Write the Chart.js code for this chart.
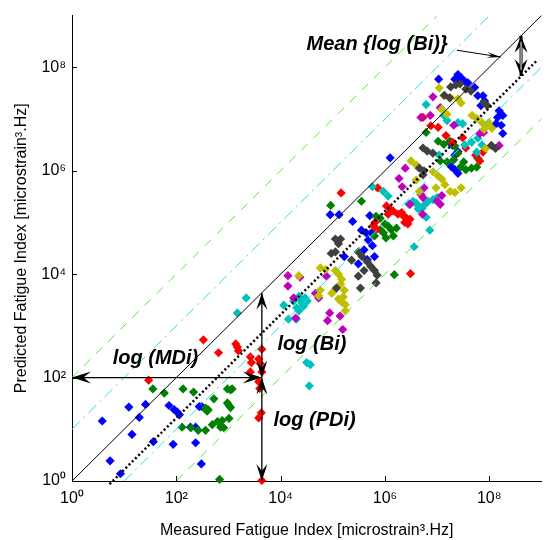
<!DOCTYPE html>
<html><head><meta charset="utf-8">
<script src="https://cdn.jsdelivr.net/npm/chart.js@4"></script>
<style>html,body{margin:0;padding:0;background:#fff}canvas{display:block}</style>
</head><body>
<canvas id="c" width="546" height="540"></canvas>
<script>
// Axis ticks
const TICK_VALUES = [1, 1e2, 1e4, 1e6, 1e8];
const TICK_LABELS = ['10⁰', '10²', '10⁴', '10⁶', '10⁸'];

// Scatter series: log10(measured) and log10(predicted)
const blueLogX = [0.58,1.09,1.29,1.41,1.15,1.56,0.73,0.93,1.86,1.96,2.02,2.06,1.94,2.27,2.37,2.44,2.49,2.37,2.48,
  4.95,5.12,5.38,5.71,6.10,5.55,5.64,5.74,5.68,5.76,5.60,5.80,5.22,5.66,5.49,
  7.03,7.40,7.46,7.34,7.53,7.43,7.59,7.72,7.78,7.88,7.91,7.84,8.19,8.26,8.16,8.13,8.23,8.26,7.24,7.30,7.40,7.34,7.27,7.34,7.40];
const blueLogY = [1.16,1.43,1.23,1.48,0.90,0.76,0.39,0.14,1.46,1.38,1.33,1.28,0.71,1.04,1.04,1.44,1.44,0.74,0.33,
  5.15,5.15,5.02,5.13,6.25,4.85,4.80,4.80,4.66,4.55,4.47,4.34,4.34,4.28,4.20,
  7.77,7.86,7.80,7.77,7.73,7.70,7.70,7.61,7.45,7.45,7.35,7.26,7.16,7.07,7.03,6.91,6.88,6.72,6.56,6.49,6.37,6.30,6.08,6.02,5.95];

const greenLogX = [1.55,1.77,2.13,2.33,2.56,2.61,2.59,2.72,2.98,3.04,3.07,2.98,3.01,3.04,2.11,2.28,2.42,2.56,2.69,2.79,2.88,2.85,2.91,3.01,2.83,
  4.96,5.55,5.83,5.91,6.00,6.06,6.12,6.22,5.91,5.97,6.02,6.16,5.80,6.18,
  6.79,7.02,7.13,7.25,7.34,7.06,7.19,7.32,7.40,7.51,7.55,7.66,7.78,7.76,7.45];
const greenLogY = [1.78,1.70,1.78,1.72,1.41,1.38,1.35,1.59,1.78,1.76,1.78,1.51,1.46,1.42,1.04,1.03,0.98,0.98,1.09,1.15,1.17,1.04,1.03,1.21,0.03,
  5.33,5.41,5.12,5.08,4.97,4.93,4.86,4.89,4.86,4.80,4.70,4.74,4.74,3.99,
  6.74,6.57,6.51,6.57,6.48,6.19,6.17,6.21,6.34,6.17,6.02,6.05,6.24,6.07,6.07];

const redLogX = [2.52,2.81,3.14,3.17,3.19,3.42,3.44,3.58,3.61,3.42,3.64,3.58,3.60,3.64,1.47,3.58,3.63,3.64,
  6.49,5.16,5.86,6.03,6.10,6.16,6.06,6.25,6.32,6.35,6.41,6.48,6.38,6.44,5.81,5.78,5.84,
  6.73,6.88,7.02,7.17,7.30,7.49,7.55,7.74,7.82,7.88];
const redLogY = [2.73,2.48,2.65,2.59,2.52,2.40,2.29,2.36,2.27,2.11,2.11,1.92,1.79,2.55,1.95,1.22,1.32,0.01,
  4.01,5.57,5.67,5.32,5.26,5.22,5.16,5.16,5.19,5.13,5.09,5.06,5.00,4.97,5.00,4.94,4.87,
  7.03,6.87,6.84,6.68,6.55,6.64,6.44,6.30,6.19,6.36];

const cyanLogX = [3.34,3.17,4.50,4.57,4.55,4.06,4.25,4.35,4.38,4.41,4.44,4.47,4.51,4.31,4.35,4.15,4.30,
  5.76,5.97,6.06,6.46,6.54,6.60,6.65,6.71,6.77,6.83,6.92,7.00,6.64,6.79,6.86,6.56,
  6.79,7.13,7.19,7.40,7.49,7.53,7.66,7.78,7.86,7.76,7.04];
const cyanLogY = [3.54,3.25,2.29,2.25,1.84,3.40,3.48,3.57,3.51,3.44,3.38,3.54,3.48,3.35,3.29,3.13,3.13,
  5.69,5.60,5.51,5.35,5.41,5.37,5.31,5.27,5.35,5.41,5.44,5.48,5.26,5.10,4.85,4.53,
  7.28,7.07,6.97,6.93,6.91,6.50,6.55,6.63,6.50,6.36,6.30];

const magentaLogX = [4.14,4.37,4.14,4.25,4.67,4.73,4.88,4.94,4.90,5.14,5.19,4.29,
  6.39,6.27,6.33,6.48,6.69,6.73,6.75,7.00,7.06,7.09,6.72,
  6.92,7.06,6.69,6.87,7.32,7.82,7.89,8.19];
const magentaLogY = [3.97,3.94,3.77,3.54,3.63,3.54,3.96,3.25,3.10,3.19,2.93,3.15,
  6.05,5.85,5.69,5.35,5.54,5.48,5.67,5.41,5.35,5.52,5.16,
  7.43,7.22,7.03,7.07,6.88,6.72,6.74,6.49];

const yellowLogX = [4.35,4.76,4.86,5.05,5.11,5.17,5.15,5.05,4.76,4.73,4.98,5.22,5.20,5.11,5.17,5.24,5.24,
  6.50,6.60,6.92,7.02,7.09,6.98,7.15,7.25,7.34,7.46,6.60,6.66,
  7.04,7.13,7.26,7.40,7.46,7.09,7.19,7.67,7.76,7.86,7.93,7.99,8.05,7.90,7.93];
const yellowLogY = [3.97,4.12,4.09,4.07,4.00,3.90,3.81,3.71,3.69,3.58,3.63,3.69,3.56,3.52,3.46,3.41,3.29,
  6.19,6.11,5.98,5.90,5.84,5.67,5.73,5.60,5.58,5.67,5.82,5.60,
  7.60,7.45,7.41,7.39,7.31,7.19,7.09,7.07,7.01,6.93,6.88,6.93,6.82,6.80,6.43];

const grayLogX = [5.05,5.15,5.11,4.97,5.05,5.49,5.56,5.66,5.73,5.60,5.80,5.36,5.49,5.85,5.53,5.07,5.83,
  7.14,7.24,7.26,7.36,7.44,7.55,7.65,7.90,7.96,6.73,6.81,6.92,6.66,6.75,6.73,8.04,8.12];
const grayLogY = [4.68,4.68,4.59,4.40,4.43,4.43,4.34,4.24,4.15,4.07,4.07,4.27,3.96,3.98,3.73,3.73,3.83,
  7.46,7.41,7.62,7.66,7.68,7.58,7.54,7.31,7.26,6.44,6.38,6.34,6.05,6.00,5.92,6.49,6.43];

// Reference lines (end points)
const identityX = [1, 1e9], identityY = [1, 1e9];
const meanFitX = [5.25, 7.9e8], meanFitY = [0.87, 1.3e8];
const upperGreenX = [1, 1e7], upperGreenY = [100, 1e9];
const lowerGreenX = [100, 1e9], lowerGreenY = [1, 1e7];
const upperCyanX = [1, 1e8], upperCyanY = [10, 1e9];
const lowerCyanX = [10, 1e9], lowerCyanY = [1, 1e8];

const pts = (lx, ly) => lx.map((v, i) => ({ x: Math.pow(10, v), y: Math.pow(10, ly[i]) }));
const seg = (xs, ys) => xs.map((v, i) => ({ x: v, y: ys[i] }));

const FONT = '"Liberation Sans", Arial, Helvetica, sans-serif';

// Annotations (data coordinates)
const ARROWS = [
  { x1: 1, y1: 100, x2: 4365, y2: 100, start: true, end: true, L: 19, W: 12, w: 1.3 },
  { x1: 4365, y1: 4365, x2: 4365, y2: 100, start: true, end: true, L: 17, W: 11, w: 1.3 },
  { x1: 4365, y1: 100, x2: 4365, y2: 1, start: true, end: true, L: 17, W: 11, w: 1.3 },
  { x1: 2.4e7, y1: 2.14e8, x2: 1.66e8, y2: 1.58e8, start: false, end: true, L: 14, W: 6, w: 1 },
  { x1: 4.07e8, y1: 4.07e8, x2: 4.07e8, y2: 6.8e7, start: true, end: true, L: 17, W: 13, w: 3, hollow: true }
];
const NOTES = [
  { text: 'log (MDi)', x: 39.8, y: 229 },
  { text: 'log (Bi)', x: 3.98e4, y: 437 },
  { text: 'log (PDi)', x: 4.47e4, y: 15.1 },
  { text: 'Mean {log (Bi)}', x: 7.08e5, y: 2.75e8 }
];

function head(ctx, tx, ty, dx, dy, L, W) {
  const px = -dy, py = dx;
  ctx.beginPath();
  ctx.moveTo(tx, ty);
  ctx.lineTo(tx - dx * L + px * W / 2, ty - dy * L + py * W / 2);
  ctx.lineTo(tx - dx * L * 0.6, ty - dy * L * 0.6);
  ctx.lineTo(tx - dx * L - px * W / 2, ty - dy * L - py * W / 2);
  ctx.closePath();
  ctx.fill();
}

const annot = {
  id: 'annot',
  afterDatasetsDraw(chart) {
    const { ctx, chartArea: ca } = chart;
    const xs = chart.scales.x, ys = chart.scales.y;
    ctx.save();
    // inward ticks
    ctx.strokeStyle = '#000'; ctx.lineWidth = 1;
    TICK_VALUES.forEach(v => {
      const px = Math.round(xs.getPixelForValue(v)) + 0.5;
      ctx.beginPath(); ctx.moveTo(px, ca.bottom); ctx.lineTo(px, ca.bottom - 5); ctx.stroke();
      const py = Math.round(ys.getPixelForValue(v)) + 0.5;
      ctx.beginPath(); ctx.moveTo(ca.left, py); ctx.lineTo(ca.left + 5, py); ctx.stroke();
    });
    // arrows
    ARROWS.forEach(a => {
      const x1 = xs.getPixelForValue(a.x1), y1 = ys.getPixelForValue(a.y1);
      const x2 = xs.getPixelForValue(a.x2), y2 = ys.getPixelForValue(a.y2);
      const len = Math.hypot(x2 - x1, y2 - y1), dx = (x2 - x1) / len, dy = (y2 - y1) / len;
      ctx.strokeStyle = '#000'; ctx.fillStyle = '#000'; ctx.lineWidth = a.w;
      ctx.beginPath(); ctx.moveTo(x1, y1); ctx.lineTo(x2, y2); ctx.stroke();
      if (a.end) head(ctx, x2, y2, dx, dy, a.L, a.W);
      if (a.start) head(ctx, x1, y1, -dx, -dy, a.L, a.W);
      if (a.hollow) {
        ctx.strokeStyle = '#fff'; ctx.lineWidth = 1;
        ctx.beginPath(); ctx.moveTo(x1 + dx * 6, y1 + dy * 6); ctx.lineTo(x2 - dx * 6, y2 - dy * 6); ctx.stroke();
      }
    });
    // text notes
    ctx.fillStyle = '#000';
    ctx.font = 'italic bold 20px ' + FONT;
    ctx.textAlign = 'center'; ctx.textBaseline = 'middle';
    NOTES.forEach(n => ctx.fillText(n.text, xs.getPixelForValue(n.x), ys.getPixelForValue(n.y)));
    ctx.restore();
  }
};

const scatterSet = (lx, ly, color, order) => ({
  data: pts(lx, ly), backgroundColor: color, borderColor: color, borderWidth: 0,
  pointStyle: 'rectRot', pointRadius: 4.6, showLine: false, clip: false, order
});
const lineSet = (xs, ys, color, width, dash, order) => ({
  data: seg(xs, ys), borderColor: color, backgroundColor: color, borderWidth: width,
  borderDash: dash, pointRadius: 0, showLine: true, fill: false, tension: 0, order, clip: false
});

new Chart(document.getElementById('c'), {
  type: 'scatter',
  data: {
    datasets: [
      lineSet(identityX, identityY, '#000', 1, [], 0),
      lineSet(meanFitX, meanFitY, '#000', 2.5, [2, 2.5], 0),
      lineSet(upperGreenX, upperGreenY, '#4dee2a', 1, [9, 8], 0),
      lineSet(lowerGreenX, lowerGreenY, '#4dee2a', 1, [9, 8], 0),
      lineSet(upperCyanX, upperCyanY, '#1ee0f0', 1, [11, 5, 2, 5], 0),
      lineSet(lowerCyanX, lowerCyanY, '#1ee0f0', 1, [11, 5, 2, 5], 0),
      scatterSet(grayLogX, grayLogY, '#404040', 1),
      scatterSet(yellowLogX, yellowLogY, '#bfbf00', 2),
      scatterSet(magentaLogX, magentaLogY, '#bf00bf', 3),
      scatterSet(cyanLogX, cyanLogY, '#00bfbf', 4),
      scatterSet(redLogX, redLogY, '#ff0000', 5),
      scatterSet(greenLogX, greenLogY, '#008000', 6),
      scatterSet(blueLogX, blueLogY, '#0000ff', 7)
    ]
  },
  options: {
    responsive: false, animation: false, events: [],
    layout: { padding: { top: 9, right: 2, left: 0, bottom: 0 } },
    plugins: { legend: { display: false }, tooltip: { enabled: false } },
    scales: {
      x: {
        type: 'logarithmic', min: 1, max: 1e9,
        afterBuildTicks: s => { s.ticks = TICK_VALUES.map(v => ({ value: v })); },
        afterFit: s => { s.height = 59; },
        grid: { display: false, drawTicks: false },
        border: { display: true, color: '#000', width: 1 },
        ticks: { color: '#000', font: { family: FONT, size: 16 }, padding: 8, maxRotation: 0, autoSkip: false,
          callback: v => { const i = TICK_VALUES.indexOf(v); return i >= 0 ? TICK_LABELS[i] : ''; } },
        title: { display: true, text: 'Measured Fatigue Index [microstrain³.Hz]', color: '#000',
          font: { family: FONT, size: 16 }, padding: { top: 0, bottom: 0 } }
      },
      y: {
        type: 'logarithmic', min: 1, max: 1e9,
        afterBuildTicks: s => { s.ticks = TICK_VALUES.map(v => ({ value: v })); },
        afterFit: s => { s.width = 72; },
        grid: { display: false, drawTicks: false },
        border: { display: true, color: '#000', width: 1 },
        ticks: { color: '#000', font: { family: FONT, size: 16 }, padding: 6, autoSkip: false,
          callback: v => { const i = TICK_VALUES.indexOf(v); return i >= 0 ? TICK_LABELS[i] : ''; } },
        title: { display: true, text: 'Predicted Fatigue Index [microstrain³.Hz]', color: '#000',
          font: { family: FONT, size: 16 }, padding: { top: 12, bottom: 0 } }
      }
    }
  },
  plugins: [annot]
});
</script>
</body></html>
